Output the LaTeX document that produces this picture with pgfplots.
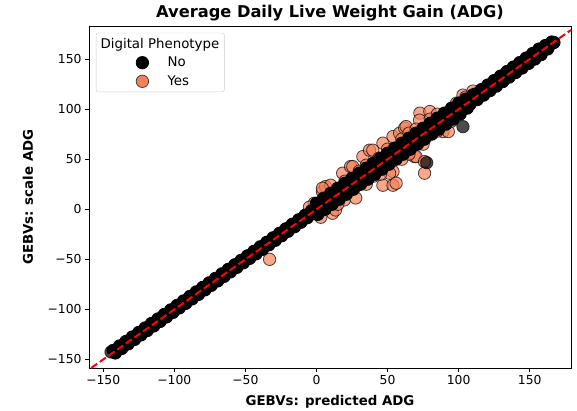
\documentclass[border=0pt]{standalone}
\usepackage{fontspec}
\setmainfont{DejaVu Sans}
\usepackage{pgfplots}
\usepackage{pgfplotstable}
\pgfplotsset{compat=1.18}
\definecolor{coral}{RGB}{246,128,88}

% Digital Phenotype = Yes
\pgfplotstableread{
x y
-33 -50
11.3 -4
3 -8
-1.6 6
4.2 17.6
6.4 22.6
10 24
4.2 21
13.4 -0.7
19.6 9.3
27.6 11.3
18.4 36
24 42.6
25.5 42.6
32.6 52.6
37.3 59
39.6 59
37.3 42.6
46.7 66
53.8 72.6
58.5 76
62 81
63 82.6
72.7 96
79.7 97.6
72.5 89
89 77.6
92.7 77.6
89 87.6
94 96
98.5 106
103 114
54 56
53.8 37.6
51.4 36
46.7 24
53.8 24
56 26
69 52.6
70 52.6
76 47.6
76 36
30 38
35 44
44 51
50 60
60 70
65 76
70 80
80 90
85 95
75 65
65 55
45 35
35 25
40 33
60 50
85 78
95 88
100 95
105 112
110 118
15 5
20 28
-5 2
0 -5
8 12
}\yesdata

\begin{document}
\begin{tikzpicture}
\begin{axis}[
  name=ax, at={(0,0)}, anchor=south west, set layers=standard,
  scale only axis, width=482bp, height=342bp,
  xmin=-160, xmax=179, ymin=-158.5, ymax=183,
  xtick={-150,-100,-50,0,50,100,150},
  xticklabels={−150,−100,−50,0,50,100,150},
  ytick={-150,-100,-50,0,50,100,150},
  yticklabels={−150,−100,−50,0,50,100,150},
  tick pos=left, tick align=outside, major tick length=4bp,
  tick style={black, line width=0.9bp},
  axis line style={line width=0.9bp},
  ticklabel style={font=\fontsize{12.4}{14}\selectfont},
  xlabel={GEBVs: predicted ADG},
  ylabel={GEBVs: scale ADG},
  every axis x label/.style={at={(axis description cs:0.5,0)}, anchor=center, yshift=-34bp,
    font=\bfseries\fontsize{13.4}{15}\selectfont},
  every axis y label/.style={at={(axis description cs:0,0.5)}, anchor=center, xshift=-61bp, rotate=90,
    font=\bfseries\fontsize{13.4}{15}\selectfont},
  title={Average Daily Live Weight Gain (ADG)},
  every axis title/.style={at={(axis description cs:0.5,1)}, anchor=center, yshift=13bp,
    font=\bfseries\fontsize{16.3}{18}\selectfont},
  legend cell align=left,
  legend style={at={(axis description cs:0.0145,0.980)}, anchor=north west,
    draw=black!20, fill=white, fill opacity=0.8, text opacity=1,
    rounded corners=2bp, inner sep=4bp, row sep=5.4bp,
    nodes={inner sep=1bp}, font=\fontsize{13.4}{15}\selectfont},
]
\addlegendimage{empty legend}
\addlegendentry{\hspace*{-67bp}Digital Phenotype}
\addlegendimage{legend image code/.code={\filldraw[fill=black, draw=black, fill opacity=1, draw opacity=1, line width=0.8bp] (0bp,0bp) circle (6.2bp); \path (-42bp,0bp) (24bp,0bp);}}
\addlegendentry{No}
\addlegendimage{legend image code/.code={\filldraw[fill=coral, draw=black!75, fill opacity=1, draw opacity=1, line width=0.8bp] (0bp,0bp) circle (6.2bp); \path (-42bp,0bp) (24bp,0bp);}}
\addlegendentry{Yes}

% Yes
\addplot[forget plot, only marks, mark=*, mark size=6.2bp,
  mark options={fill=coral, draw=black, fill opacity=0.7, draw opacity=0.7, line width=0.8bp}]
  table[x=x, y=y] {\yesdata};
% No (dense band)
\addplot[forget plot, only marks, mark=*, mark size=6.2bp,
  mark options={fill=black, draw=black, fill opacity=1, draw opacity=1, line width=0.8bp}]
  coordinates {
  (-143,-141) (-141.5,-143.5) (-140,-140) (-138.5,-136.5) (-137,-139) (-135.5,-135.5)
  (-134,-132) (-132.5,-134.5) (-131,-131) (-129.5,-127.5) (-128,-130) (-126.5,-126.5)
  (-125,-123) (-123.5,-125.5) (-122,-122) (-120.5,-118.5) (-119,-121) (-117.5,-117.5)
  (-116,-114) (-114.5,-116.5) (-113,-113) (-111.5,-109.5) (-110,-112) (-108.5,-108.5)
  (-107,-105) (-105.5,-107.5) (-104,-104) (-102.5,-100.5) (-101,-103) (-99.5,-99.5)
  (-98,-96) (-96.5,-98.5) (-95,-95) (-93.5,-91.5) (-92,-94) (-90.5,-90.5)
  (-89,-87) (-87.5,-89.5) (-86,-86) (-84.5,-82.5) (-83,-85) (-81.5,-81.5)
  (-80,-78) (-78.5,-80.5) (-77,-77) (-75.5,-73.5) (-74,-76) (-72.5,-72.5)
  (-71,-69) (-69.5,-71.5) (-68,-68) (-66.5,-64.5) (-65,-67) (-63.5,-63.5)
  (-62,-60) (-60.5,-62.5) (-59,-59) (-57.5,-55.5) (-56,-58) (-54.5,-54.5)
  (-53,-51) (-51.5,-53.5) (-50,-50) (-48.5,-46.5) (-47,-49) (-45.5,-45.5)
  (-44,-42) (-42.5,-44.5) (-41,-41) (-39.5,-37.5) (-38,-40) (-36.5,-36.5)
  (-35,-33) (-33.5,-35.5) (-32,-32) (-30.5,-28.5) (-29,-31) (-27.5,-27.5)
  (-26,-24) (-24.5,-26.5) (-23,-23) (-21.5,-19.5) (-20,-22) (-18.5,-18.5)
  (-17,-15) (-15.5,-17.5) (-14,-14) (-12.5,-10.5) (-11,-13) (-9.5,-9.5)
  (-8,-6) (-6.5,-8.5) (-5,-5) (-3.5,-1.5) (-2,-4) (-0.5,-0.5)
  (0,6) (1,-5) (2,5) (3,0) (4,4) (5,11) (6,0) (7,10) (8,5) (9,9)
  (10,16) (11,5) (12,15) (13,10) (14,14) (15,21) (16,10) (17,20) (18,15) (19,19)
  (20,26) (21,15) (22,25) (23,20) (24,24) (25,31) (26,20) (27,30) (28,25) (29,29)
  (30,36) (31,25) (32,35) (33,30) (34,34) (35,41) (36,30) (37,40) (38,35) (39,39)
  (40,46) (41,35) (42,45) (43,40) (44,44) (45,51) (46,40) (47,50) (48,45) (49,49)
  (50,56) (51,45) (52,55) (53,50) (54,54) (55,61) (56,50) (57,60) (58,55) (59,59)
  (60,66) (61,55) (62,65) (63,60) (64,64) (65,71) (66,60) (67,70) (68,65) (69,69)
  (70,76) (71,65) (72,75) (73,70) (74,74) (75,81) (76,70) (77,80) (78,75) (79,79)
  (80,86) (81,75) (82,85) (83,80) (84,84) (85,91) (86,80) (87,90) (88,85) (89,89)
  (90,96) (91,85) (92,95) (93,90) (94,94) (95,101) (96,90) (97,100) (98,95) (99,99)
  (100,106) (101,95) (102,105) (103,100) (104,104) (105,110) (106,101) (107,109) (108,105) (109,109)
  (110,114)
  (111.5,115) (113,109.5) (114.5,114.5) (116,119.5) (117.5,114) (119,119)
  (120.5,124) (122,118.5) (123.5,123.5) (125,128.5) (126.5,123) (128,128)
  (129.5,133) (131,127.5) (132.5,132.5) (134,137.5) (135.5,132) (137,137)
  (138.5,142) (140,136.5) (141.5,141.5) (143,146.5) (144.5,141) (146,146)
  (147.5,151) (149,145.5) (150.5,150.5) (152,155.5) (153.5,150) (155,155)
  (156.5,160) (158,154.5) (159.5,159.5) (161,163.5) (162.5,160) (164,164)
  (165.5,167) (167,166.5)
  };
% No (isolated points, semi-transparent)
\addplot[forget plot, only marks, mark=*, mark size=6.2bp,
  mark options={fill=black, draw=black, fill opacity=0.7, draw opacity=0.7, line width=0.8bp}]
  coordinates {(-144.5,-142.5) (103,82.5) (77.5,46.5)};
% identity line, from corner to corner of the plot area
\addplot[forget plot, on layer=axis foreground, red, line width=2bp, dash pattern=on 7.4bp off 3.2bp]
  coordinates {(-158.5,-158.5) (179,179)};
\end{axis}
\pgfresetboundingbox
\path ([xshift=-89bp,yshift=-43bp]ax.south west) rectangle ([xshift=6bp,yshift=26bp]ax.north east);
\end{tikzpicture}
\end{document}
